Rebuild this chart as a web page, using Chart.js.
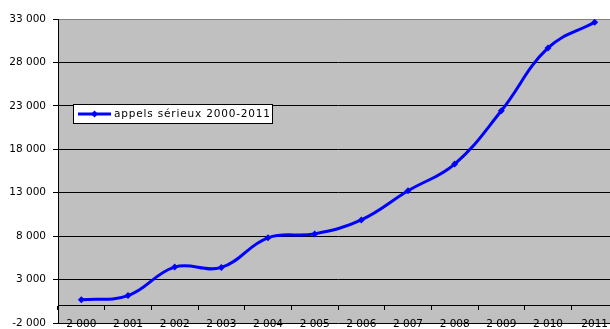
<!DOCTYPE html>
<html>
<head>
<meta charset="utf-8">
<script src="https://cdn.jsdelivr.net/npm/chart.js@4/dist/chart.umd.min.js"></script>
<style>
  html, body { margin: 0; padding: 0; background: #fff; overflow: hidden; }
  canvas { display: block; }
</style>
</head>
<body>
<canvas id="c" width="622" height="329"></canvas>
<script>
const categories = ["2 000", "2 001", "2 002", "2 003", "2 004", "2 005", "2 006", "2 007", "2 008", "2 009", "2 010", "2011"];
const seriesLabel = "appels sérieux 2000-2011";
const seriesValues = [670, 1160, 4440, 4400, 7810, 8260, 9870, 13220, 16300, 22430, 29670, 32620];
const yTicks = [-2000, 3000, 8000, 13000, 18000, 23000, 28000, 33000];

function fmt(v) {
  const s = String(Math.abs(v)).replace(/\B(?=(\d{3})+(?!\d))/g, ' ');
  return (v < 0 ? '-' : '') + s;
}

const bgPlugin = {
  id: 'plotBg',
  beforeDraw(chart) {
    const { ctx, chartArea: a } = chart;
    ctx.save();
    ctx.fillStyle = '#c0c0c0';
    ctx.fillRect(a.left, a.top, a.right - a.left, a.bottom - a.top);
    ctx.restore();
  }
};

const legendPlugin = {
  id: 'boxLegend',
  afterDraw(chart) {
    const ctx = chart.ctx;
    const ds = chart.data.datasets[0];
    const x = 73.5, y = 104.5, w = 199, h = 19;
    ctx.save();
    ctx.fillStyle = '#fff';
    ctx.fillRect(x, y, w, h);
    ctx.strokeStyle = '#000';
    ctx.lineWidth = 1;
    ctx.strokeRect(x, y, w, h);
    ctx.strokeStyle = ds.borderColor;
    ctx.lineWidth = 3;
    ctx.beginPath();
    ctx.moveTo(78, 114);
    ctx.lineTo(111, 114);
    ctx.stroke();
    ctx.fillStyle = ds.borderColor;
    ctx.beginPath();
    ctx.moveTo(94.5, 110.5); ctx.lineTo(98, 114); ctx.lineTo(94.5, 117.5); ctx.lineTo(91, 114);
    ctx.closePath(); ctx.fill();
    ctx.font = '10.5px "DejaVu Sans"';
    const txt = ds.label;
    const target = 156;
    const raw = ctx.measureText(txt).width;
    const sp = Math.max(0, (target - raw) / (txt.length - 1));
    ctx.fillStyle = '#000';
    ctx.textBaseline = 'middle';
    let cx = 114;
    for (const ch of txt) {
      ctx.fillText(ch, cx, 114.5);
      cx += ctx.measureText(ch).width + sp;
    }
    ctx.restore();
  }
};

new Chart(document.getElementById('c'), {
  type: 'line',
  data: {
    labels: categories,
    datasets: [{
      label: seriesLabel,
      data: seriesValues,
      borderColor: '#0000ff',
      backgroundColor: '#0000ff',
      borderWidth: 3,
      tension: 0.4,
      pointStyle: 'rectRot',
      pointRadius: 3.5,
      pointBorderWidth: 0,
      pointBackgroundColor: '#0000ff',
      fill: false
    }]
  },
  options: {
    responsive: false,
    animation: false,
    devicePixelRatio: 1,
    layout: { padding: { top: 19, bottom: 6, left: 0, right: 0 } },
    plugins: { legend: { display: false }, tooltip: { enabled: false } },
    scales: {
      x: {
        type: 'category',
        position: { y: 0 },
        offset: true,
        afterFit(scale) { scale.paddingLeft = 0; scale.paddingRight = 0; scale.paddingTop = 0; scale.paddingBottom = 0; },
        grid: { drawOnChartArea: false, drawTicks: true, tickLength: 4, color: '#000', offset: true },
        border: { display: true, color: '#000', width: 1 },
        ticks: { color: '#000', font: { family: 'DejaVu Sans', size: 10.5 }, padding: 8, maxRotation: 0, autoSkip: false }
      },
      y: {
        min: -2000,
        max: 33000,
        afterBuildTicks(scale) { scale.ticks = yTicks.map(v => ({ value: v })); },
        afterFit(scale) { scale.width = 58; scale.paddingTop = 0; scale.paddingBottom = 0; },
        grid: {
          color: (c) => (c.tick && c.tick.value === 33000 ? '#808080' : '#000'),
          tickColor: '#000',
          tickLength: 5,
          lineWidth: 1
        },
        border: { display: true, color: '#000', width: 1 },
        ticks: { color: '#000', font: { family: 'DejaVu Sans', size: 10.5 }, padding: 7, callback: (v) => fmt(v) }
      }
    }
  },
  plugins: [bgPlugin, legendPlugin]
});
</script>
</body>
</html>
